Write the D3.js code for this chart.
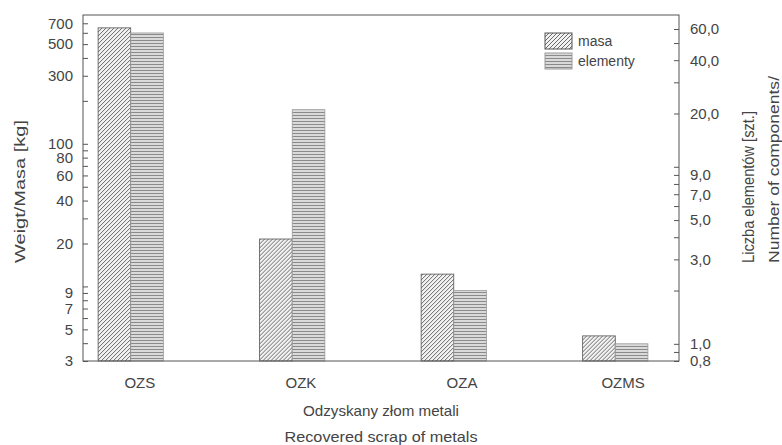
<!DOCTYPE html>
<html>
<head>
<meta charset="utf-8">
<script src="https://cdn.jsdelivr.net/npm/d3@7"></script>
<style>
  body { margin: 0; background: #fff; }
  svg text { font-family: 'Liberation Sans', Arial, sans-serif; fill: #444; }
</style>
</head>
<body>
<div id="chart"></div>
<script>
const categories = ['OZS', 'OZK', 'OZA', 'OZMS']
const masa = [650, 21.5, 12.2, 4.5]
const elementy = [57, 21, 2, 1]
const leftTickLabels = [3, 5, 7, 9, 20, 40, 60, 80, 100, 300, 500, 700]
const rightTickLabels = [0.8, 1, 3, 5, 7, 9, 20, 40, 60]

const W = 782, H = 445
const plot = { left: 83, right: 679, top: 15, bottom: 361 }

const svg = d3.select('#chart').append('svg')
  .attr('width', W).attr('height', H)

// patterns
const defs = svg.append('defs')
const pMasa = defs.append('pattern')
  .attr('id', 'hatch-masa')
  .attr('patternUnits', 'userSpaceOnUse')
  .attr('width', 4).attr('height', 4)
pMasa.append('rect').attr('width', 4).attr('height', 4).attr('fill', '#f2f2f2')
pMasa.append('path')
  .attr('d', 'M-1,1 l2,-2 M0,4 l4,-4 M3,5 l2,-2')
  .attr('stroke', '#5a5a5a').attr('stroke-width', 0.9)

const pEl = defs.append('pattern')
  .attr('id', 'hatch-el')
  .attr('patternUnits', 'userSpaceOnUse')
  .attr('width', 4).attr('height', 3)
pEl.append('rect').attr('width', 4).attr('height', 3).attr('fill', '#dedede')
pEl.append('line')
  .attr('x1', 0).attr('x2', 4).attr('y1', 1.5).attr('y2', 1.5)
  .attr('stroke', '#8a8a8a').attr('stroke-width', 1.1)

// scales
const yL = d3.scaleLog().domain([3, 800]).range([plot.bottom, plot.top])
const yR = d3.scaleLog().domain([0.8, 72]).range([plot.bottom, plot.top])

const xLab = d3.scalePoint().domain(categories)
  .range([plot.left, plot.right]).padding(0.35)
const x0 = d3.scaleBand().domain(categories)
  .range([plot.left - 8, plot.right - 8])
  .paddingInner(0.596).paddingOuter(0.143)
const x1 = d3.scaleBand().domain(['masa', 'elementy'])
  .range([0, x0.bandwidth()])

// tick values: 1..9 per decade
function logTicks(lo, hi) {
  const out = []
  for (let e = -1; e <= 3; e++) {
    for (let m = 1; m <= 9; m++) {
      const v = +(m * Math.pow(10, e)).toPrecision(3)
      if (v >= lo - 1e-9 && v <= hi + 1e-9) out.push(v)
    }
  }
  return out
}

// left axis
const gL = svg.append('g')
  .attr('transform', 'translate(' + plot.left + ',0)')
  .call(d3.axisLeft(yL)
    .tickValues(logTicks(3, 700))
    .tickSize(-5).tickPadding(10)
    .tickFormat(d => leftTickLabels.includes(d) ? d : ''))
gL.select('.domain').remove()
gL.selectAll('line').attr('stroke', '#555')
gL.selectAll('text').style('font-size', '15px').attr('fill', '#444')

// right axis
const fmtR = d => d3.format('.1f')(d).replace('.', ',')
const gR = svg.append('g')
  .attr('transform', 'translate(' + plot.right + ',0)')
  .call(d3.axisRight(yR)
    .tickValues(logTicks(0.8, 60))
    .tickSize(-5).tickPadding(11)
    .tickFormat(d => rightTickLabels.includes(d) ? fmtR(d) : ''))
gR.select('.domain').remove()
gR.selectAll('line').attr('stroke', '#555')
gR.selectAll('text').style('font-size', '15px').attr('fill', '#444')

// bottom category labels
const gB = svg.append('g')
  .attr('transform', 'translate(0,' + plot.bottom + ')')
  .call(d3.axisBottom(xLab).tickSize(0).tickPadding(16))
gB.select('.domain').remove()
gB.selectAll('text').style('font-size', '15px').attr('fill', '#444')

// bars
const groups = svg.selectAll('.grp')
  .data(categories)
  .enter()
  .append('g')
  .attr('transform', d => 'translate(' + x0(d) + ',0)')

groups.append('rect')
  .attr('x', x1('masa'))
  .attr('width', x1.bandwidth())
  .attr('y', (d, i) => yL(masa[i]))
  .attr('height', (d, i) => plot.bottom - yL(masa[i]))
  .attr('fill', 'url(#hatch-masa)')
  .attr('stroke', '#555').attr('stroke-width', 0.8)

groups.append('rect')
  .attr('x', x1('elementy'))
  .attr('width', x1.bandwidth())
  .attr('y', (d, i) => yR(elementy[i]))
  .attr('height', (d, i) => plot.bottom - yR(elementy[i]))
  .attr('fill', 'url(#hatch-el)')
  .attr('stroke', '#999').attr('stroke-width', 0.8)

// frame
svg.append('rect')
  .attr('x', plot.left).attr('y', plot.top)
  .attr('width', plot.right - plot.left)
  .attr('height', plot.bottom - plot.top)
  .attr('fill', 'none').attr('stroke', '#555').attr('stroke-width', 1)

// legend
const legend = svg.append('g').attr('transform', 'translate(545,33)')
const legItems = [
  { name: 'masa', fill: 'url(#hatch-masa)', stroke: '#555' },
  { name: 'elementy', fill: 'url(#hatch-el)', stroke: '#999' }
]
legItems.forEach((it, i) => {
  legend.append('rect')
    .attr('x', 0).attr('y', i * 20)
    .attr('width', 27).attr('height', 16)
    .attr('fill', it.fill).attr('stroke', it.stroke)
  legend.append('text')
    .attr('x', 33).attr('y', i * 20 + 13)
    .style('font-size', '14px')
    .text(it.name)
})

// axis titles
svg.append('text')
  .attr('transform', 'translate(25,263) rotate(-90)')
  .style('font-size', '15px')
  .attr('textLength', 143).attr('lengthAdjust', 'spacingAndGlyphs')
  .text('Weigt/Masa [kg]')
svg.append('text')
  .attr('transform', 'translate(754,263) rotate(-90)')
  .style('font-size', '16px')
  .attr('textLength', 152).attr('lengthAdjust', 'spacingAndGlyphs')
  .text('Liczba elementów [szt.]')
svg.append('text')
  .attr('transform', 'translate(779,263) rotate(-90)')
  .style('font-size', '15px')
  .attr('textLength', 187).attr('lengthAdjust', 'spacingAndGlyphs')
  .text('Number of components/')

svg.append('text')
  .attr('x', 381).attr('y', 416)
  .attr('text-anchor', 'middle')
  .style('font-size', '15px')
  .attr('textLength', 156).attr('lengthAdjust', 'spacingAndGlyphs')
  .text('Odzyskany złom metali')
svg.append('text')
  .attr('x', 381).attr('y', 442)
  .attr('text-anchor', 'middle')
  .style('font-size', '15px')
  .attr('textLength', 193).attr('lengthAdjust', 'spacingAndGlyphs')
  .text('Recovered scrap of metals')
</script>
</body>
</html>
